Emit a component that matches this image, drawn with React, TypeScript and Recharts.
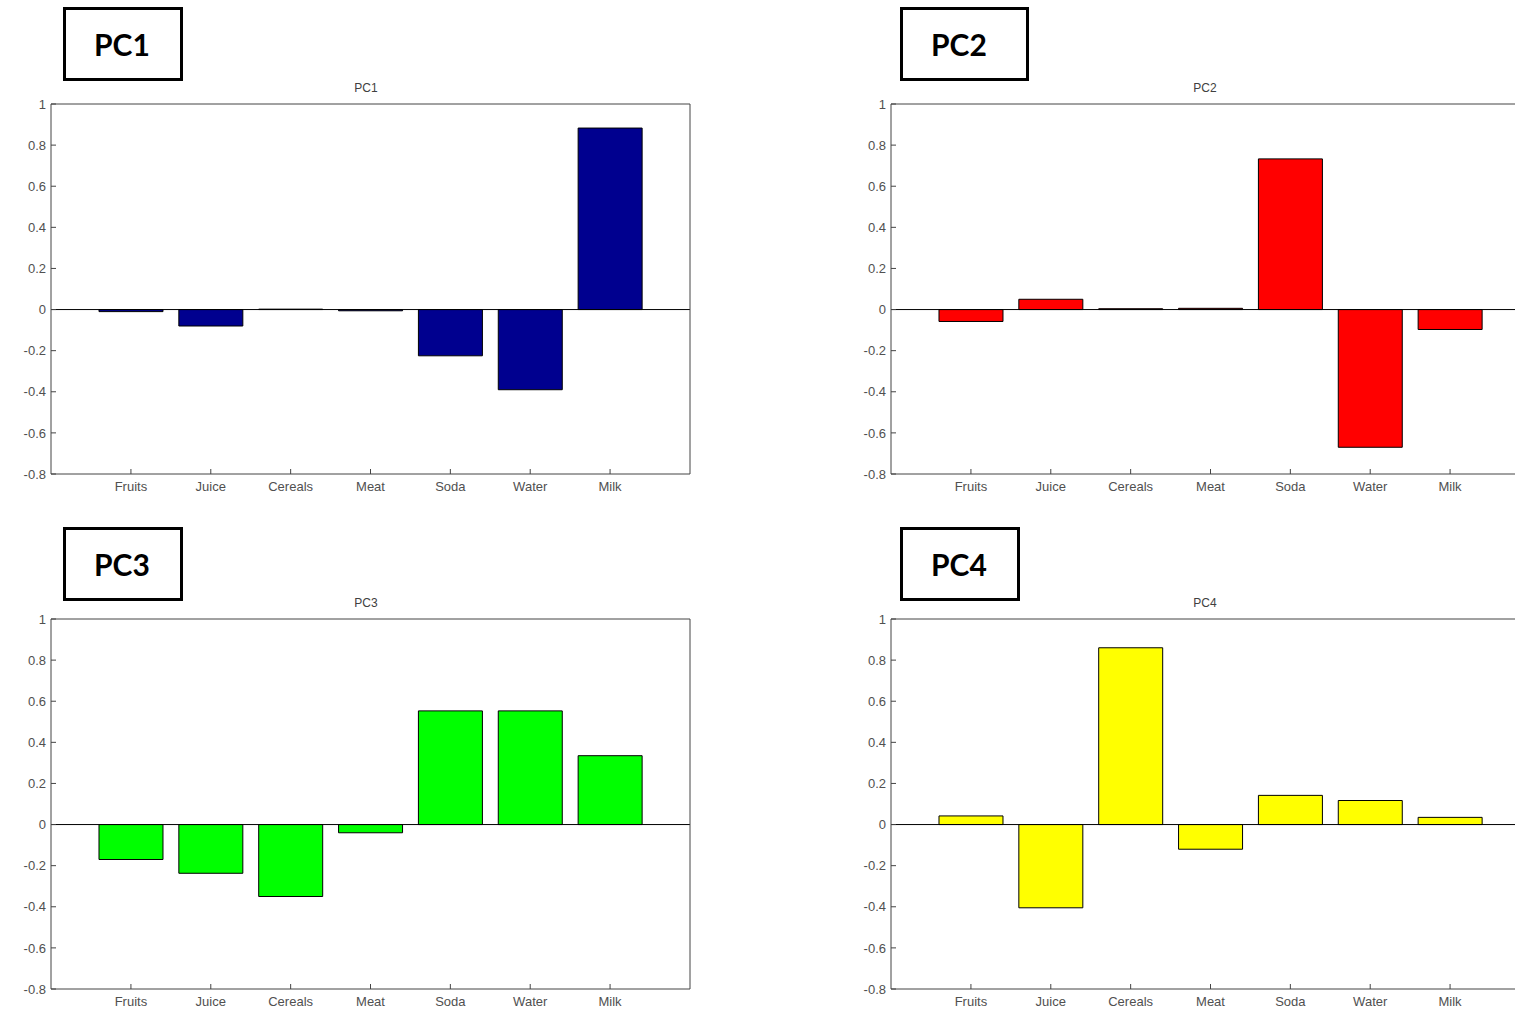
import React from 'react';
import { BarChart, Bar, XAxis, YAxis, ReferenceLine } from 'recharts';

const categories = ['Fruits', 'Juice', 'Cereals', 'Meat', 'Soda', 'Water', 'Milk'];

const pc1Values = [-0.01, -0.08, 0.002, -0.006, -0.225, -0.39, 0.883];
const pc2Values = [-0.058, 0.05, 0.004, 0.006, 0.733, -0.67, -0.097];
const pc3Values = [-0.17, -0.237, -0.35, -0.04, 0.553, 0.553, 0.335];
const pc4Values = [0.042, -0.405, 0.86, -0.12, 0.142, 0.117, 0.035];

const yTicks = [-0.8, -0.6, -0.4, -0.2, 0, 0.2, 0.4, 0.6, 0.8, 1];

const PLOT_W = 639;
const PLOT_H = 370;
const AXIS_W = 51;
const TOP_M = 10;
const BOTTOM_H = 30;

const tickFont = { fontSize: 13, fill: '#505050', fontFamily: '"Liberation Sans", Arial, sans-serif' };
const axisStroke = '#444';

interface PanelProps {
  title: string;
  values: number[];
  color: string;
  plotLeft: number;
  plotTop: number;
  boxLeft: number;
  boxTop: number;
  boxWidth: number;
  titleX: number;
}

function Panel({ title, values, color, plotLeft, plotTop, boxLeft, boxTop, boxWidth, titleX }: PanelProps) {
  const rows = categories.map((name, i) => ({ name, value: values[i] }));

  return (
    <>
      <div
        style={{
          position: 'absolute',
          left: boxLeft,
          top: boxTop,
          width: boxWidth,
          height: 74,
          boxSizing: 'border-box',
          border: '3px solid #000',
          background: '#fff',
          display: 'flex',
          alignItems: 'center',
          paddingLeft: 28,
          fontFamily: 'Lato, "Noto Sans", sans-serif',
          fontWeight: 700,
          fontSize: 30,
          color: '#000',
        }}
      >
        {title}
      </div>
      <div
        style={{
          position: 'absolute',
          left: titleX - 40,
          top: plotTop - 23,
          width: 80,
          textAlign: 'center',
          fontFamily: '"Liberation Sans", Arial, sans-serif',
          fontSize: 12,
          color: '#404040',
        }}
      >
        {title}
      </div>
      <div style={{ position: 'absolute', left: plotLeft - AXIS_W, top: plotTop - TOP_M }}>
        <BarChart
          width={AXIS_W + PLOT_W + 10}
          height={TOP_M + PLOT_H + BOTTOM_H}
          data={rows}
          margin={{ top: TOP_M, right: 10, bottom: 0, left: 0 }}
          barCategoryGap="10%"
        >
          <XAxis
            dataKey="name"
            padding={{ left: 40, right: 40 }}
            height={BOTTOM_H}
            interval={0}
            tick={tickFont}
            tickSize={-5}
            tickMargin={13}
            tickLine={{ stroke: axisStroke }}
            axisLine={{ stroke: axisStroke }}
          />
          <XAxis
            xAxisId="top"
            dataKey="name"
            orientation="top"
            mirror
            padding={{ left: 40, right: 40 }}
            height={1}
            interval={0}
            tick={false}
            tickSize={5}
            tickLine={{ stroke: axisStroke }}
            axisLine={{ stroke: axisStroke }}
          />
          <YAxis
            type="number"
            domain={[-0.8, 1]}
            ticks={yTicks}
            width={AXIS_W}
            interval={0}
            tick={tickFont}
            tickSize={-5}
            tickMargin={10}
            tickLine={{ stroke: axisStroke }}
            axisLine={{ stroke: axisStroke }}
            tickFormatter={(v: number) => String(Math.round(v * 10) / 10)}
          />
          <YAxis
            yAxisId="right"
            type="number"
            orientation="right"
            mirror
            domain={[-0.8, 1]}
            ticks={yTicks}
            width={1}
            interval={0}
            tick={false}
            tickSize={5}
            tickLine={{ stroke: axisStroke }}
            axisLine={{ stroke: axisStroke }}
          />
          <Bar dataKey="value" fill={color} stroke="#000" strokeWidth={1} isAnimationActive={false} />
          <ReferenceLine y={0} stroke="#000" strokeWidth={1} />
        </BarChart>
      </div>
    </>
  );
}

export default function App() {
  return (
    <div
      style={{
        position: 'absolute',
        left: 0,
        top: 0,
        width: 1515,
        height: 1012,
        overflow: 'hidden',
        background: '#fff',
      }}
    >
      <Panel title="PC1" values={pc1Values} color="#00008f" plotLeft={51} plotTop={104} boxLeft={63} boxTop={7} boxWidth={120} titleX={366} />
      <Panel title="PC2" values={pc2Values} color="#ff0000" plotLeft={890.5} plotTop={104} boxLeft={900} boxTop={7} boxWidth={129} titleX={1205} />
      <Panel title="PC3" values={pc3Values} color="#00ff00" plotLeft={51} plotTop={619} boxLeft={63} boxTop={527} boxWidth={120} titleX={366} />
      <Panel title="PC4" values={pc4Values} color="#ffff00" plotLeft={890.5} plotTop={619} boxLeft={900} boxTop={527} boxWidth={120} titleX={1205} />
    </div>
  );
}
